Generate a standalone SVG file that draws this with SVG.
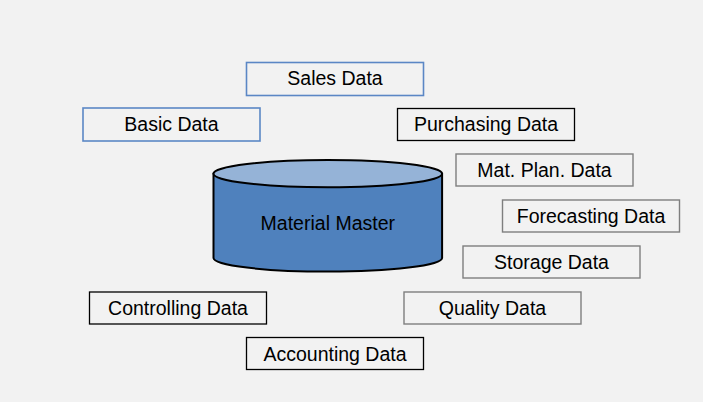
<svg xmlns="http://www.w3.org/2000/svg" width="703" height="402" viewBox="0 0 703 402">
<style>
.box{fill:#f2f2f2;stroke-width:1.3}
.blue{stroke:#5b87c5;stroke-width:1.6}
.gray{stroke:#7f7f7f;stroke-width:1.4}
.black{stroke:#000000}
text{font-family:"Liberation Sans",Arial,sans-serif;font-size:19.5px;fill:#000;text-anchor:middle}
</style>
<rect width="703" height="402" fill="#f2f2f2"/>
<g id="connectors"></g>
<g id="material-master">
<path d="M213.5,173.7 L213.5,258 A114.3,13.6 0 0 0 442.1,258 L442.1,173.7 Z" fill="#4f81bd" stroke="#000" stroke-width="2"/>
<ellipse cx="327.8" cy="173.7" rx="114.3" ry="13.6" fill="#95b3d7" stroke="#000" stroke-width="2"/>
<text x="327.8" y="229.5">Material Master</text>
</g>
<g id="sales-data"><rect class="box blue" x="246.5" y="62.5" width="177" height="33"/><text x="335" y="85">Sales Data</text></g>
<g id="basic-data"><rect class="box blue" x="83" y="108" width="177" height="33"/><text x="171.5" y="130.5">Basic Data</text></g>
<g id="purchasing-data"><rect class="box black" x="397.5" y="108.5" width="177" height="32"/><text x="486" y="131">Purchasing Data</text></g>
<g id="mat-plan-data"><rect class="box gray" x="456" y="154" width="177" height="32"/><text x="544.5" y="177">Mat. Plan. Data</text></g>
<g id="forecasting-data"><rect class="box gray" x="502.5" y="200" width="177" height="32"/><text x="591" y="223">Forecasting Data</text></g>
<g id="storage-data"><rect class="box gray" x="463" y="246" width="177" height="32"/><text x="551.5" y="269">Storage Data</text></g>
<g id="controlling-data"><rect class="box black" x="89.5" y="292" width="177" height="32"/><text x="178" y="315">Controlling Data</text></g>
<g id="quality-data"><rect class="box gray" x="404" y="292" width="177" height="32"/><text x="492.5" y="315">Quality Data</text></g>
<g id="accounting-data"><rect class="box black" x="246.5" y="337.5" width="177" height="32"/><text x="335" y="360.5">Accounting Data</text></g>
</svg>
